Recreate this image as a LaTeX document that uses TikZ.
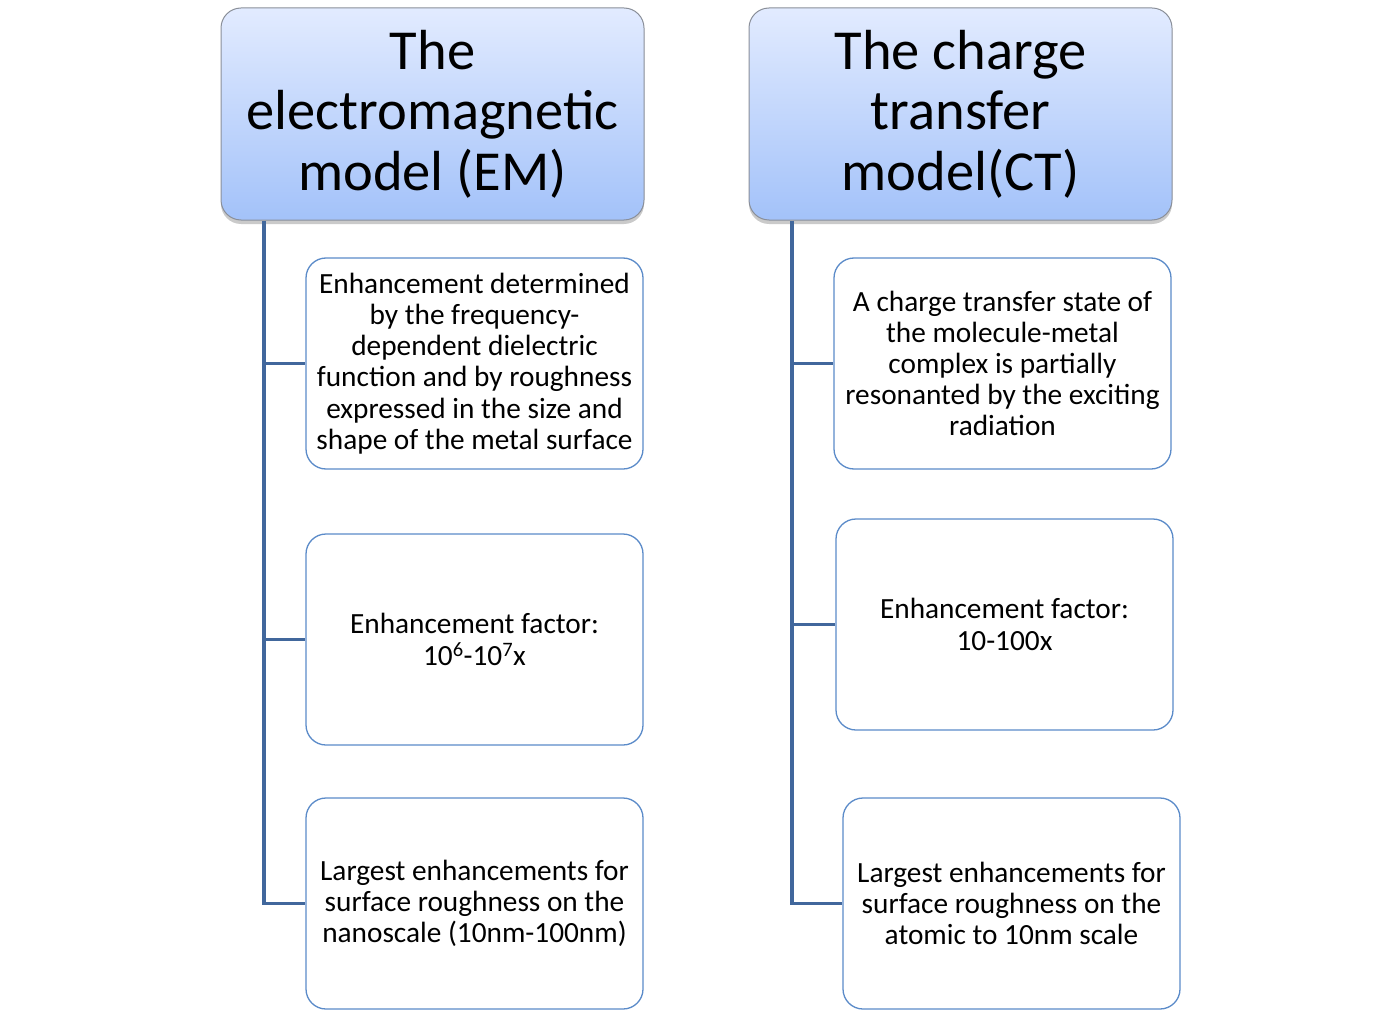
\documentclass[tikz,border=0pt]{standalone}
\usepackage{fontspec}
\setmainfont{Carlito}
\usetikzlibrary{shadows,calc}
\definecolor{hdtop}{HTML}{E2EBFF}
\definecolor{hdbot}{HTML}{A3C2F9}
\definecolor{hdline}{HTML}{8A8F99}
\definecolor{boxline}{HTML}{5B8BC9}
\definecolor{trunk}{HTML}{41679C}
\begin{document}
\begin{tikzpicture}[x=1pt,y=-1pt,
  header/.style={draw=hdline, line width=1pt, rounded corners=20pt,
    top color=hdtop, bottom color=hdbot,
    drop shadow={shadow xshift=0pt, shadow yshift=-4pt, opacity=0.35, fill=black!60},
    minimum width=423pt, minimum height=212pt, inner sep=0pt,
    align=center, font=\fontsize{56.5}{60.5}\selectfont},
  item/.style={draw=boxline, line width=1.3pt, rounded corners=20pt, fill=white,
    minimum width=337pt, minimum height=211pt, inner sep=0pt,
    align=center, font=\fontsize{29.3}{31.2}\selectfont},
  trunkline/.style={draw=trunk, line width=3.5pt},
  branch/.style={draw=trunk, line width=3.5pt}]
\useasboundingbox (0,0) rectangle (1394,1011);
% headers
\node[header] (emh) at (432.5,114) {The\\electromagnetic\\model (EM)};
\node[header] (cth) at (960.5,114) {The charge\\transfer\\model(CT)};
% left items
\node[item] (em1) at (474.5,363.5) {Enhancement determined\\by the frequency-\\dependent dielectric\\function and by roughness\\expressed in the size and\\shape of the metal surface};
\node[item] (em2) at (474.5,639.5) {Enhancement factor:\\10\textsuperscript{6}-10\textsuperscript{7}x};
\node[item] (em3) at (474.5,903.5) {Largest enhancements for\\surface roughness on the\\nanoscale (10nm-100nm)};
% right items
\node[item] (ct1) at (1002.5,363.5) {A charge transfer state of\\the molecule-metal\\complex is partially\\resonanted by the exciting\\radiation};
\node[item] (ct2) at (1004.5,624.5) {Enhancement factor:\\10-100x};
\node[item] (ct3) at (1011.5,903.5) {Largest enhancements for\\surface roughness on the\\atomic to 10nm scale};
% connectors
\coordinate (emt) at (264,0);
\coordinate (ctt) at (792,0);
\draw[trunkline] (emh.south -| emt) -- (em3.west -| emt);
\draw[branch] (em1.west -| emt) -- (em1.west);
\draw[branch] (em2.west -| emt) -- (em2.west);
\draw[branch,line join=miter] ($(emh.south -| emt)+(0,100)$) |- (em3.west);
\draw[trunkline] (cth.south -| ctt) -- (ct3.west -| ctt);
\draw[branch] (ct1.west -| ctt) -- (ct1.west);
\draw[branch] (ct2.west -| ctt) -- (ct2.west);
\draw[branch,line join=miter] ($(cth.south -| ctt)+(0,100)$) |- (ct3.west);
\end{tikzpicture}
\end{document}
